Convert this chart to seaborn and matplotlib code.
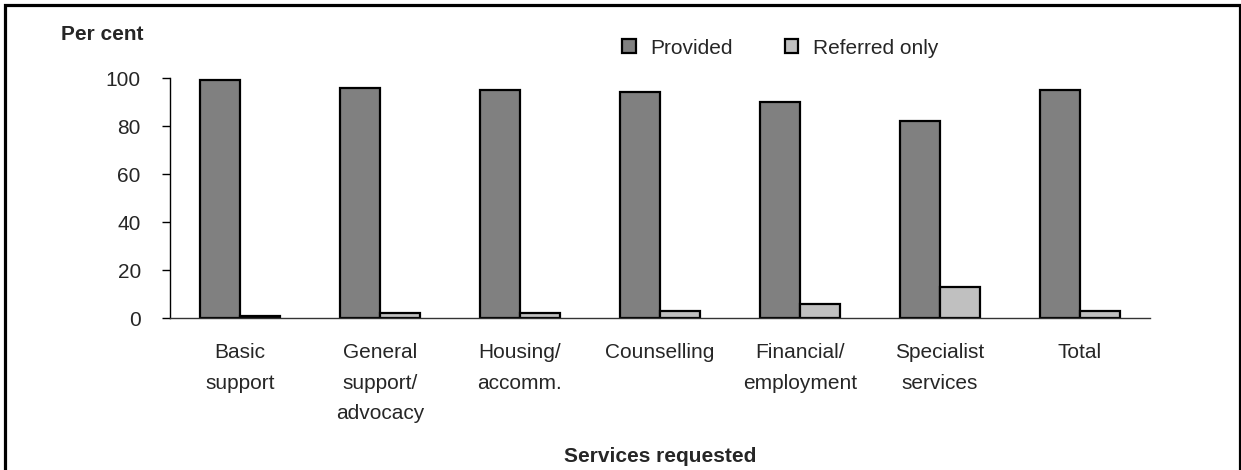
import matplotlib
matplotlib.use("Agg")
import matplotlib.pyplot as plt
from matplotlib.patches import Rectangle
import seaborn as sns
import pandas as pd

categories = ["Basic\nsupport", "General\nsupport/\nadvocacy", "Housing/\naccomm.",
              "Counselling", "Financial/\nemployment", "Specialist\nservices", "Total"]
provided = [99, 96, 95, 94, 90, 82, 95]
referred_only = [1, 2, 2, 3, 6, 13, 3]
series_names = ["Provided", "Referred only"]
y_ticks = [0, 20, 40, 60, 80, 100]

df = pd.DataFrame({
    "category": categories * 2,
    "value": provided + referred_only,
    "series": [series_names[0]] * len(categories) + [series_names[1]] * len(categories),
})

sns.set_theme(style="white")
plt.rcParams["font.family"] = ["Liberation Sans", "DejaVu Sans"]

fig = plt.figure(figsize=(12.41, 4.70), dpi=100)
ax = fig.add_axes([170 / 1241, 1 - 318 / 470, 980 / 1241, 240 / 470])

sns.barplot(data=df, x="category", y="value", hue="series", order=categories,
            hue_order=series_names, palette=["#808080", "#c0c0c0"],
            width=0.571, edgecolor="black", linewidth=1.6, ax=ax)

ax.set_xlim(-0.5, len(categories) - 0.5)
ax.set_ylim(0, 100)
ax.set_yticks(y_ticks)
ax.set_yticklabels([str(t) for t in y_ticks], fontsize=15)
ax.tick_params(axis="y", direction="out", length=6, width=1, color="black", pad=15, left=True)
ax.tick_params(axis="x", length=0, pad=18, labelsize=15)
for lab in ax.get_xticklabels():
    lab.set_linespacing(1.78)

for s in ["top", "right"]:
    ax.spines[s].set_visible(False)
ax.spines["left"].set_color("black")
ax.spines["left"].set_linewidth(1)
ax.spines["bottom"].set_color("#333333")
ax.spines["bottom"].set_linewidth(1)

ax.set_ylabel("")
ax.set_xlabel("")

fig.text(660 / 1241, 1 - 456 / 470, "Services requested", fontsize=15, fontweight="bold",
         ha="center", va="center")
fig.text(61 / 1241, 1 - 35 / 470, "Per cent", fontsize=15, fontweight="bold",
         ha="left", va="center")

handles, labels = ax.get_legend_handles_labels()
if ax.get_legend() is not None:
    ax.get_legend().remove()
fig.legend(handles, labels, loc="center left", bbox_to_anchor=(622 / 1241, 1 - 48 / 470),
           ncol=2, frameon=False, fontsize=15, handlelength=0.65, handleheight=0.65,
           handletextpad=0.7, columnspacing=2.5, borderpad=0, borderaxespad=0)

fig.patches.append(Rectangle((4.5 / 1241, -0.05), (1239.5 - 4.5) / 1241, 1.05 - 4.5 / 470,
                             transform=fig.transFigure, fill=False, lw=2.3,
                             edgecolor="black", clip_on=False))

fig.savefig("out.png", dpi=100)
